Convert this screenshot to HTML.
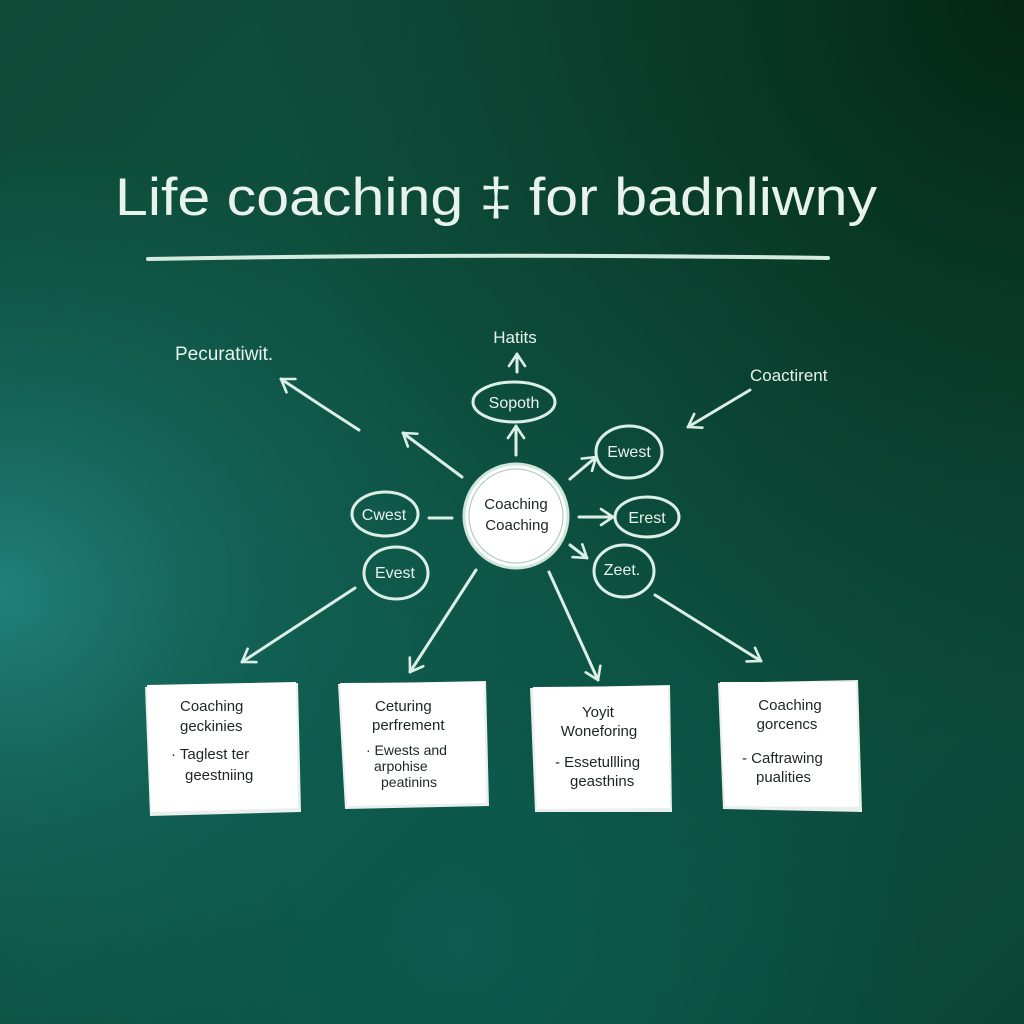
<!DOCTYPE html>
<html>
<head>
<meta charset="utf-8">
<style>
html,body{margin:0;padding:0;width:1024px;height:1024px;overflow:hidden;background:#0d4c3c;}
svg{display:block;}
.ch{font-family:"Liberation Sans Narrow","Liberation Sans",sans-serif;fill:#e8f3ec;}
.dk{font-family:"Liberation Sans Narrow","Liberation Sans",sans-serif;fill:#1e2622;}
</style>
</head>
<body>
<svg width="1024" height="1024" viewBox="0 0 1024 1024" xmlns="http://www.w3.org/2000/svg">
<defs>
<linearGradient id="base" x1="0" y1="0" x2="1" y2="1">
<stop offset="0" stop-color="#0e4a36"/>
<stop offset="0.5" stop-color="#0e5444"/>
<stop offset="1" stop-color="#0a4636"/>
</linearGradient>
<radialGradient id="teal" cx="0" cy="0.58" r="0.5" gradientTransform="translate(0,0.58) scale(1,0.9) translate(0,-0.58)">
<stop offset="0" stop-color="#21807c" stop-opacity="1"/>
<stop offset="0.5" stop-color="#187068" stop-opacity="0.5"/>
<stop offset="1" stop-color="#12625a" stop-opacity="0"/>
</radialGradient>
<radialGradient id="bot" cx="0.45" cy="0.92" r="0.45">
<stop offset="0" stop-color="#0c5e52" stop-opacity="0.8"/>
<stop offset="1" stop-color="#0c5e52" stop-opacity="0"/>
</radialGradient>
<radialGradient id="dark" cx="1" cy="0" r="0.75">
<stop offset="0" stop-color="#052513" stop-opacity="1"/>
<stop offset="0.5" stop-color="#072f1c" stop-opacity="0.6"/>
<stop offset="1" stop-color="#083322" stop-opacity="0"/>
</radialGradient>
<marker id="ah" viewBox="0 0 20 20" refX="17" refY="10" markerWidth="20" markerHeight="20" markerUnits="userSpaceOnUse" orient="auto">
<path d="M5 2 L17 10 L5 18" fill="none" stroke="#dcefe6" stroke-width="2.6" stroke-linecap="round" stroke-linejoin="round"/>
</marker>
</defs>
<rect width="1024" height="1024" fill="url(#base)"/>
<rect width="1024" height="1024" fill="url(#teal)"/>
<rect width="1024" height="1024" fill="url(#bot)"/>
<rect width="1024" height="1024" fill="url(#dark)"/>

<!-- title -->
<text x="115" y="215" class="ch" font-size="53" textLength="762" lengthAdjust="spacingAndGlyphs">Life coaching ‡ for badnliwny</text>
<path d="M148 259 Q480 253 828 258" stroke="#d6ebe0" stroke-width="4" fill="none" stroke-linecap="round"/>

<g stroke="#dcefe6" stroke-width="3" fill="none" stroke-linecap="round">
<!-- arrows -->
<path d="M359 430 Q320 405 281 379" marker-end="url(#ah)"/>
<path d="M462 477 L403 433" marker-end="url(#ah)"/>
<path d="M517 372 L517 354" marker-end="url(#ah)"/>
<path d="M516 455 L516 426" marker-end="url(#ah)"/>
<path d="M750 390 L688 427" marker-end="url(#ah)"/>
<path d="M570 479 L596 457" marker-end="url(#ah)"/>
<path d="M429 518 L452 518"/>
<path d="M579 517 L613 517" marker-end="url(#ah)"/>
<path d="M570 545 L587 558" marker-end="url(#ah)"/>
<path d="M355 588 L242 662" marker-end="url(#ah)"/>
<path d="M476 570 L410 672" marker-end="url(#ah)"/>
<path d="M549 572 L598 680" marker-end="url(#ah)"/>
<path d="M655 595 L761 661" marker-end="url(#ah)"/>
<!-- small nodes -->
<ellipse cx="514" cy="402" rx="41" ry="20"/>
<ellipse cx="629" cy="452" rx="33" ry="26"/>
<ellipse cx="385" cy="514" rx="33" ry="22"/>
<ellipse cx="647" cy="517" rx="32" ry="20"/>
<ellipse cx="624" cy="571" rx="30" ry="26"/>
<ellipse cx="396" cy="573" rx="32" ry="26"/>
</g>
<!-- center -->
<circle cx="516" cy="516" r="52" fill="#ffffff" stroke="#cfe6dc" stroke-width="3"/>
<circle cx="516" cy="516" r="47" fill="none" stroke="#9fc4b6" stroke-width="1"/>
<text x="516" y="509" class="dk" font-size="15" text-anchor="middle">Coaching</text>
<text x="517" y="530" class="dk" font-size="15" text-anchor="middle">Coaching</text>

<g class="ch" font-size="17">
<text x="175" y="360" font-size="19">Pecuratiwit.</text>
<text x="515" y="343" text-anchor="middle">Hatits</text>
<text x="750" y="381">Coactirent</text>
<text x="514" y="408" text-anchor="middle" font-size="16">Sopoth</text>
<text x="629" y="457" text-anchor="middle" font-size="16">Ewest</text>
<text x="384" y="520" text-anchor="middle" font-size="16">Cwest</text>
<text x="647" y="523" text-anchor="middle" font-size="16">Erest</text>
<text x="622" y="575" text-anchor="middle" font-size="16">Zeet.</text>
<text x="395" y="578" text-anchor="middle" font-size="16">Evest</text>
</g>

<!-- notes -->
<g fill="#ffffff">
<path d="M145 687 L298 683 L301 812 L150 816 Z" fill="#e9efec"/>
<path d="M147 685 L296 682 L298 808 L151 812 Z"/>
<path d="M338 684 L486 681 L489 806 L345 809 Z" fill="#e9efec"/>
<path d="M340 683 L484 682 L486 803 L347 806 Z"/>
<path d="M530 688 L670 685 L672 812 L535 812 Z" fill="#e9efec"/>
<path d="M533 687 L668 686 L670 808 L537 809 Z"/>
<path d="M718 683 L858 680 L862 812 L723 809 Z" fill="#e9efec"/>
<path d="M720 682 L856 682 L859 807 L725 806 Z"/>
</g>
<g class="dk" font-size="15">
<text x="180" y="711">Coaching</text>
<text x="180" y="731">geckinies</text>
<text x="171" y="759">· Taglest ter</text>
<text x="185" y="780">geestniing</text>

<text x="375" y="711">Ceturing</text>
<text x="372" y="730">perfrement</text>
<text x="366" y="755" font-size="14">· Ewests and</text>
<text x="374" y="771" font-size="14">arpohise</text>
<text x="381" y="787" font-size="14">peatinins</text>

<text x="598" y="717" text-anchor="middle">Yoyit</text>
<text x="599" y="736" text-anchor="middle">Woneforing</text>
<text x="555" y="767">- Essetullling</text>
<text x="570" y="786">geasthins</text>

<text x="790" y="710" text-anchor="middle">Coaching</text>
<text x="787" y="729" text-anchor="middle">gorcencs</text>
<text x="742" y="763">- Caftrawing</text>
<text x="756" y="782">pualities</text>
</g>
</svg>
</body>
</html>
